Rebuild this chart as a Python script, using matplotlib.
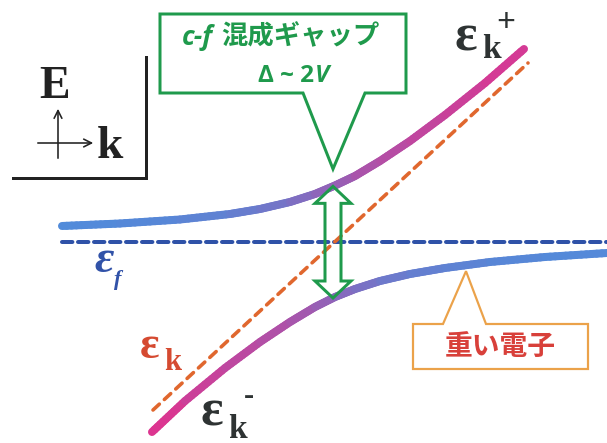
import numpy as np
import matplotlib
matplotlib.use("Agg")
import matplotlib.pyplot as plt
from matplotlib.collections import LineCollection
from matplotlib.patches import Polygon
from matplotlib.colors import to_rgb

# Hybridised bands (x: momentum k, y: energy in screen units, growing downward)
upper_k = [62, 120, 180, 230, 260, 290, 315, 335, 355, 380, 410, 445, 485, 524]
upper_e = [226, 223.5, 219.5, 214, 209, 202, 194, 185.5, 176, 161, 141, 115, 83, 49]
lower_k = [152, 185, 225, 260, 290, 315, 335, 355, 380, 410, 445, 490, 545, 607]
lower_e = [432, 401, 368, 342, 322, 307, 297, 289, 281, 274, 268, 262, 257, 253]
# Bare f level and bare conduction band
ef_k = [62, 607]
ef_e = [242, 242]
ek_k = [153, 528]
ek_e = [410, 63]
# Momentum where the gap arrow is drawn
gap_k = 333

PX = 0.72  # one pixel in points at dpi 100

F_COLOR = np.array(to_rgb("#4a8fde"))
C_COLOR = np.array(to_rgb("#dc3590"))
GREEN = "#1f9a4c"
ORANGE_EDGE = "#eba24a"

fig = plt.figure(figsize=(6.07, 4.43), dpi=100)
ax = fig.add_axes([0, 0, 1, 1])
ax.set_xlim(0, 607)
ax.set_ylim(443, 0)
ax.axis("off")


def gradient_band(k, e, slope_ref):
    k = np.asarray(k, float)
    e = np.asarray(e, float)
    segs, cols = [], []
    for i in range(len(k) - 1):
        s0 = abs((e[i + 1] - e[i]) / (k[i + 1] - k[i])) / slope_ref
        j = min(i + 1, len(k) - 2)
        s1 = abs((e[j + 1] - e[j]) / (k[j + 1] - k[j])) / slope_ref
        n = 12
        t = np.linspace(0, 1, n + 1)
        xs = k[i] + (k[i + 1] - k[i]) * t
        ys = e[i] + (e[i + 1] - e[i]) * t
        for m in range(n):
            w = np.clip(s0 + (s1 - s0) * (t[m] + 0.5 / n) * 0.5, 0, 1)
            segs.append([(xs[m], ys[m]), (xs[m + 1], ys[m + 1])])
            cols.append(F_COLOR * (1 - w) + C_COLOR * w)
    lc = LineCollection(segs, colors=cols, linewidths=8 * PX,
                        capstyle="round", joinstyle="round", zorder=3)
    ax.add_collection(lc)


slope_ref = abs((ek_e[1] - ek_e[0]) / (ek_k[1] - ek_k[0]))

# bare levels
ax.plot(ef_k, ef_e, color="#2f52a8", lw=4 * PX, dashes=(2.6, 1.4),
        dash_capstyle="round", zorder=2)
ax.plot(ek_k, ek_e, color="#e0672e", lw=3.6 * PX, dashes=(2.4, 1.9),
        dash_capstyle="round", zorder=2)

gradient_band(upper_k, upper_e, slope_ref)
gradient_band(lower_k, lower_e, slope_ref)

# gap arrow between the two bands
top = np.interp(gap_k, upper_k, upper_e)
bot = np.interp(gap_k, lower_k, lower_e)
hw, sw, hl = 18, 8, 17
arrow = [(gap_k, top), (gap_k + hw, top + hl), (gap_k + sw, top + hl),
         (gap_k + sw, bot - hl), (gap_k + hw, bot - hl), (gap_k, bot),
         (gap_k - hw, bot - hl), (gap_k - sw, bot - hl), (gap_k - sw, top + hl),
         (gap_k - hw, top + hl)]
ax.add_patch(Polygon(arrow, closed=True, fill=False, edgecolor=GREEN,
                     lw=3 * PX, joinstyle="miter", zorder=4))

# callout for the hybridisation gap
callout = [(160, 14), (406, 14), (406, 93), (365, 93), (gap_k, 169),
           (303, 93), (160, 93)]
ax.add_patch(Polygon(callout, closed=True, facecolor="white", edgecolor=GREEN,
                     lw=3 * PX, joinstyle="miter", zorder=5))
SANS = "Open Sans"
ax.text(213, 37, "c-f", color=GREEN, fontsize=19, family=SANS,
        style="italic", weight="bold", ha="right", va="center", zorder=6)
ax.text(221, 37, "混成ギャップ", color=GREEN, fontsize=19,
        family="Noto Sans CJK JP", weight="bold", ha="left", va="center",
        zorder=6)
ax.text(314, 76, "Δ ~ 2", color=GREEN, fontsize=17.5, family=SANS,
        weight="bold", ha="right", va="center", zorder=6)
ax.text(315, 76, "V", color=GREEN, fontsize=17.5, family=SANS,
        style="italic", weight="bold", ha="left", va="center", zorder=6)

# callout for heavy electrons
heavy_tip_k = 466
heavy_tip_e = np.interp(heavy_tip_k, lower_k, lower_e) + 6
heavy = [(413, 324), (443, 324), (heavy_tip_k, heavy_tip_e), (486, 324),
         (588, 324), (588, 369), (413, 369)]
ax.add_patch(Polygon(heavy, closed=True, facecolor="white",
                     edgecolor=ORANGE_EDGE, lw=2.2 * PX, joinstyle="miter",
                     zorder=5))
ax.text(500, 347, "重い電子", color="#d8403a", fontsize=20,
        family="Noto Sans CJK JP", weight="bold", ha="center", va="center",
        zorder=6)

# E-k axes icon
ax.plot([146, 146, 13], [57, 178, 178], color="#222222", lw=3 * PX,
        solid_joinstyle="miter", zorder=3)
ax.annotate("", xy=(58, 106), xytext=(58, 161),
            arrowprops=dict(arrowstyle="->", color="#222222", lw=1.6 * PX,
                            mutation_scale=14))
ax.annotate("", xy=(96, 143), xytext=(35, 143),
            arrowprops=dict(arrowstyle="->", color="#222222", lw=1.6 * PX,
                            mutation_scale=14))
ax.text(55, 87, "E", fontsize=33, family="Liberation Serif", weight="bold",
        color="#222222", ha="center", va="center")
ax.text(110, 147, "k", fontsize=34, family="Liberation Serif", weight="bold",
        color="#222222", ha="center", va="center")

# band labels
SERIF = "Liberation Serif"
EPS = "\u03b5"
DARK = "#2e3333"
ax.text(466, 37, EPS, fontsize=38, family=SERIF, weight="bold", color=DARK,
        ha="center", va="center")
ax.text(491, 49, "k", fontsize=24, family=SERIF, weight="bold", color=DARK,
        ha="center", va="center")
ax.text(506, 22, "+", fontsize=24, family=SERIF, weight="bold", color=DARK,
        ha="center", va="center")

ax.text(212, 413, EPS, fontsize=38, family=SERIF, weight="bold", color=DARK,
        ha="center", va="center")
ax.text(237, 429, "k", fontsize=24, family=SERIF, weight="bold", color=DARK,
        ha="center", va="center")
ax.text(249, 396, "-", fontsize=22, family=SERIF, weight="bold", color=DARK,
        ha="center", va="center")

RED = "#d54a31"
ax.text(150, 347, EPS, fontsize=33, family=SERIF, weight="bold", color=RED,
        ha="center", va="center")
ax.text(173, 362, "k", fontsize=22, family=SERIF, weight="bold", color=RED,
        ha="center", va="center")

BLUE = "#3152a8"
ax.text(104, 261, EPS, fontsize=34, family=SERIF, weight="bold",
        style="italic", color=BLUE, ha="center", va="center")
ax.text(118, 280, "f", fontsize=16, family=SERIF, weight="bold",
        style="italic", color=BLUE, ha="center", va="center")

fig.savefig("out.png", dpi=100)
